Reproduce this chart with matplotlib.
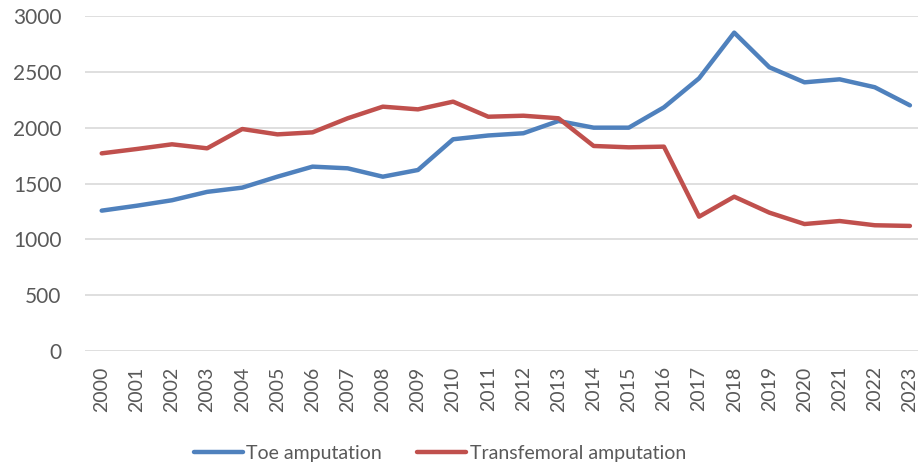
import numpy as np
import matplotlib.pyplot as plt

# values
years = [str(y) for y in range(2000, 2024)]
toe = [1257, 1301, 1350, 1425, 1463, 1561, 1651, 1636, 1561, 1621, 1896, 1930,
       1950, 2060, 2000, 2000, 2182, 2442, 2851, 2541, 2406, 2433, 2362, 2200]
transfemoral = [1770, 1809, 1851, 1815, 1988, 1940, 1958, 2084, 2188, 2164, 2233, 2098,
                2107, 2084, 1836, 1824, 1830, 1203, 1382, 1239, 1137, 1164, 1126, 1120]

plt.rcParams['font.family'] = ['Lato', 'DejaVu Sans']

fig = plt.figure(figsize=(9.18, 4.66), dpi=100)
ax = fig.add_axes([85 / 918, 115 / 466, 1 - 85 / 918, 335 / 466])

x = np.arange(len(years))
ax.plot(x, toe, color='#4F81BD', linewidth=3.2, solid_capstyle='round', label='Toe amputation')
ax.plot(x, transfemoral, color='#C0504D', linewidth=3.2, solid_capstyle='round', label='Transfemoral amputation')

ax.set_ylim(0, 3000)
ax.set_yticks(range(0, 3001, 500))
ax.set_xlim(-0.475, 23.23)
ax.set_xticks(x)
ax.set_xticklabels(years, rotation=90)
ax.grid(axis='y', color='#D9D9D9', linewidth=1.2)
ax.set_axisbelow(True)
for s in ax.spines.values():
    s.set_visible(False)
ax.tick_params(length=0, labelcolor='#595959')
ax.tick_params(axis='y', labelsize=15, pad=17)
ax.tick_params(axis='x', labelsize=14, pad=11)

fig.legend(loc='center', bbox_to_anchor=(440 / 918, 1 - 453 / 466), ncol=2, frameon=False,
           fontsize=14, handlelength=2.5, columnspacing=1.8, handletextpad=0.2,
           labelcolor='#595959')

fig.savefig('out.png', dpi=100)
